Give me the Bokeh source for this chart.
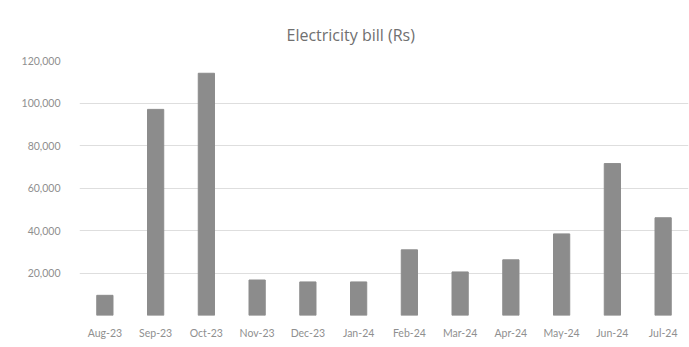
from bokeh.plotting import figure
from bokeh.models import FactorRange, Range1d, FixedTicker, NumeralTickFormatter, ColumnDataSource
from bokeh.embed import file_html
from bokeh.resources import INLINE

months = ["Aug-23", "Sep-23", "Oct-23", "Nov-23", "Dec-23", "Jan-24",
          "Feb-24", "Mar-24", "Apr-24", "May-24", "Jun-24", "Jul-24"]
bill = [9500, 97000, 114000, 16700, 15800, 15800,
        30900, 20500, 26200, 38400, 71500, 46000]
y_ticks = [20000, 40000, 60000, 80000, 100000, 120000]

src = ColumnDataSource(dict(m=months, v=bill))

p = figure(width=689, height=347, output_backend="svg", toolbar_location=None,
           x_range=FactorRange(*months, range_padding=0),
           y_range=Range1d(0, 120000),
           min_border_left=79, min_border_right=1, min_border_top=60, min_border_bottom=32)

p.vbar(x="m", top="v", width=0.32, source=src, color="#8c8c8c")

p.title.text = "Electricity bill (Rs)"
p.title.align = "left"
p.title.offset = 207
p.title.text_font = "Open Sans"
p.title.text_font_size = "16px"
p.title.text_font_style = "normal"
p.title.text_color = "#707070"
p.title.standoff = 29

p.outline_line_color = None
p.background_fill_color = "white"
p.border_fill_color = "white"

p.xgrid.grid_line_color = None
p.ygrid.grid_line_color = "#dedede"
p.ygrid.grid_line_width = 1

p.yaxis.ticker = FixedTicker(ticks=y_ticks)
p.yaxis.formatter = NumeralTickFormatter(format="0,0")
for ax in (p.xaxis[0], p.yaxis[0]):
    ax.axis_line_color = None
    ax.major_tick_line_color = None
    ax.minor_tick_line_color = None
    ax.major_label_text_font = "Lato"
    ax.major_label_text_color = "#8f8f8f"
    ax.major_label_text_font_size = "10.5px"
p.yaxis.major_label_standoff = 13
p.xaxis.major_label_standoff = 5

open("out.html", "w").write(file_html(p, INLINE))
